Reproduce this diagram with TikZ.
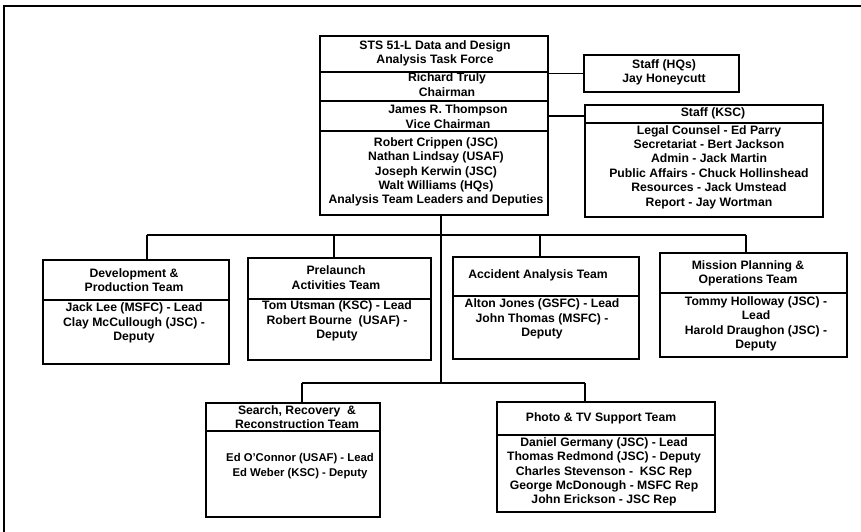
\documentclass[tikz,border=0pt]{standalone}
\usepackage{fontspec}
\setmainfont{Liberation Sans}
\usetikzlibrary{fit}
\begin{document}
\begin{tikzpicture}[x=1pt,y=-1pt,
  frame/.style={draw=black, line width=1.4pt, inner sep=0pt, outer sep=0pt},
  lbl/.style={font=\fontsize{12.2}{14.4}\selectfont\bfseries, align=center, inner sep=0pt},
  narrowlbl/.style={lbl, font=\fontsize{11.3}{14.4}\selectfont\bfseries},
  link/.style={draw=black, line width=1.3pt},
  edge/.style={draw=black, line width=1.6pt}]
\useasboundingbox (0,0) rectangle (861,532);
\fill[white] (0,0) rectangle (861,532);
% page frame (top and left edges only)
\draw[edge] (4,532) -- (4,6) -- (861,6);

% ---- task force block ----
\node[frame, fit={(320,36) (548,72)}] (tfHead) {};
\node[frame, fit={(320,72) (548,101)}] (tfChair) {};
\node[frame, fit={(320,101) (548,131)}] (tfVice) {};
\node[frame, fit={(320,131) (548,215)}] (tfBody) {};
\node[lbl] (tfHeadT) at (435,53.5) {STS 51-L Data and Design\\Analysis Task Force};
\node[lbl] (tfChairT) at (447,84.5) {Richard Truly\\Chairman};
\node[lbl] (tfViceT) at (448,116.5) {James R. Thompson\\Vice Chairman};
\node[lbl] (tfBodyT) at (436,172) {Robert Crippen (JSC)\\Nathan Lindsay (USAF)\\Joseph Kerwin (JSC)\\Walt Williams (HQs)\\Analysis Team Leaders and Deputies};

% ---- staff ----
\node[frame, fit={(584,55) (739,92)}] (hq) {};
\node[lbl] (hqT) at (664,72.5) {Staff (HQs)\\Jay Honeycutt};
\node[frame, fit={(585,105) (823,123)}] (kscHead) {};
\node[frame, fit={(585,123) (823,217)}] (kscBody) {};
\node[lbl] (kscHeadT) at (713,113.5) {Staff (KSC)};
\node[lbl] (kscBodyT) at (709,167) {Legal Counsel - Ed Parry\\Secretariat - Bert Jackson\\Admin - Jack Martin\\Public Affairs - Chuck Hollinshead\\Resources - Jack Umstead\\Report - Jay Wortman};

\draw[link] (hq.west) -- (hq.west -| tfChair.east);
\draw[link] (tfVice.east) -- (tfVice.east -| kscHead.west);

% ---- analysis teams ----
\node[frame, fit={(43,260) (229,300)}] (devHead) {};
\node[frame, fit={(43,300) (229,364)}] (devBody) {};
\node[lbl] (devHeadT) at (134,280) {Development \&\\Production Team};
\node[lbl] (devBodyT) at (134,323) {Jack Lee (MSFC) - Lead\\Clay McCullough (JSC) -\\Deputy};

\node[frame, fit={(248,258) (431,299)}] (preHead) {};
\node[frame, fit={(248,299) (431,360)}] (preBody) {};
\node[lbl] (preHeadT) at (336,277.5) {Prelaunch\\Activities Team};
\node[lbl] (preBodyT) at (337,321) {Tom Utsman (KSC) - Lead\\Robert Bourne\ \ (USAF) -\\Deputy};

\node[frame, fit={(453,257) (639,296)}] (accHead) {};
\node[frame, fit={(453,296) (639,359)}] (accBody) {};
\node[lbl] (accHeadT) at (538,275.5) {Accident Analysis Team};
\node[lbl] (accBodyT) at (542,319) {Alton Jones (GSFC) - Lead\\John Thomas (MSFC) -\\Deputy};

\node[frame, fit={(660,253) (847,293)}] (misHead) {};
\node[frame, fit={(660,293) (847,357)}] (misBody) {};
\node[lbl] (misHeadT) at (748,273.5) {Mission Planning \&\\Operations Team};
\node[lbl] (misBodyT) at (756,324) {Tommy Holloway (JSC) -\\Lead\\Harold Draughon (JSC) -\\Deputy};

\node[frame, fit={(206,403) (380,431)}] (seaHead) {};
\node[frame, fit={(206,431) (380,517)}] (seaBody) {};
\node[lbl] (seaHeadT) at (297,417) {Search, Recovery\ \ \&\\Reconstruction Team};
\node[narrowlbl] (seaBodyT) at (300,466) {Ed O'Connor (USAF) - Lead\\Ed Weber (KSC) - Deputy};

\node[frame, fit={(497,402) (715,435)}] (phoHead) {};
\node[frame, fit={(497,435) (715,512)}] (phoBody) {};
\node[lbl] (phoHeadT) at (601,418.5) {Photo \& TV Support Team};
\node[lbl] (phoBodyT) at (604,472) {Daniel Germany (JSC) - Lead\\Thomas Redmond (JSC) - Deputy\\Charles Stevenson -\ \ KSC Rep\\George McDonough - MSFC Rep\\John Erickson - JSC Rep};

% ---- reporting lines ----
\coordinate (hub) at (441,235);
\coordinate (hubLow) at (441,383);
\coordinate (dDev) at (147,235);
\coordinate (dPre) at (334,235);
\coordinate (dAcc) at (540,235);
\coordinate (dMis) at (746,235);
\coordinate (dSea) at (302,383);
\coordinate (dPho) at (585,383);

\draw[link] (hub |- tfBody.south) -- (hubLow);
\draw[link] (dDev) -- (dMis);
\draw[link] (dDev) -- (dDev |- devHead.north);
\draw[link] (dPre) -- (dPre |- preHead.north);
\draw[link] (dAcc) -- (dAcc |- accHead.north);
\draw[link] (dMis) -- (dMis |- misHead.north);
\draw[link] (dSea) -- (dPho);
\draw[link] (dSea) -- (dSea |- seaHead.north);
\draw[link] (dPho) -- (dPho |- phoHead.north);
\end{tikzpicture}
\end{document}
